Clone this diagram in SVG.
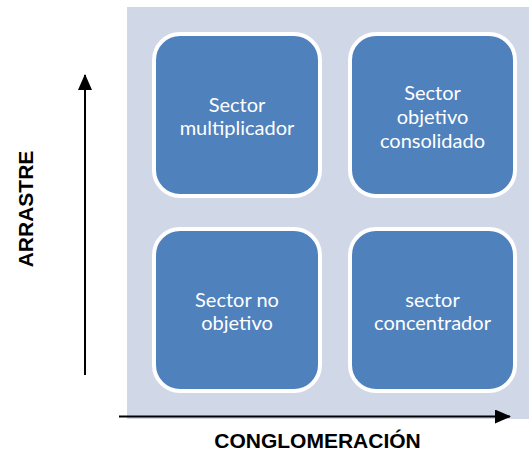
<svg xmlns="http://www.w3.org/2000/svg" width="529" height="468" viewBox="0 0 529 468">
<style>
.box{fill:#4F81BD;stroke:#FFFFFF;stroke-width:4}
.bt{fill:#FFFFFF;font-family:Lato,"Open Sans",sans-serif;font-size:20px;text-anchor:middle}
.ax{stroke:#000;stroke-width:2;fill:none}
.lab{font-family:"Liberation Sans",Arial,sans-serif;font-weight:bold;font-size:21px;fill:#000;text-anchor:middle}
</style>
<defs>
<marker id="ah2" markerWidth="16" markerHeight="14" refX="15" refY="7" orient="auto" markerUnits="userSpaceOnUse" viewBox="0 0 16 14">
<path d="M0,0 L16,7 L0,14 Z" fill="#000"/>
</marker>
</defs>
<rect x="127" y="7" width="402" height="412" fill="#D0D8E8"/>
<g id="n1"><rect class="box" x="154" y="34" width="166" height="162" rx="26"/>
<text class="bt" x="237" y="112">Sector</text><text class="bt" x="237" y="135">multiplicador</text></g>
<g id="n2"><rect class="box" x="350" y="34" width="165" height="162" rx="26"/>
<text class="bt" x="432.5" y="100">Sector</text><text class="bt" x="432.5" y="124">objetivo</text><text class="bt" x="432.5" y="148">consolidado</text></g>
<g id="n3"><rect class="box" x="154" y="229" width="166" height="162" rx="26"/>
<text class="bt" x="237" y="307">Sector no</text><text class="bt" x="237" y="330">objetivo</text></g>
<g id="n4"><rect class="box" x="350" y="229" width="165" height="162" rx="26"/>
<text class="bt" x="432.5" y="307">sector</text><text class="bt" x="432.5" y="330">concentrador</text></g>
<g id="connectors">
<line class="ax" x1="85" y1="375" x2="85" y2="75" marker-end="url(#ah2)"/>
<line class="ax" x1="119" y1="416.5" x2="510" y2="416.5" marker-end="url(#ah2)"/>
</g>
<text class="lab" transform="translate(33,209) rotate(-90)" x="0" y="0" font-size="22">ARRASTRE</text>
<text class="lab" x="317.5" y="448">CONGLOMERACIÓN</text>
</svg>
